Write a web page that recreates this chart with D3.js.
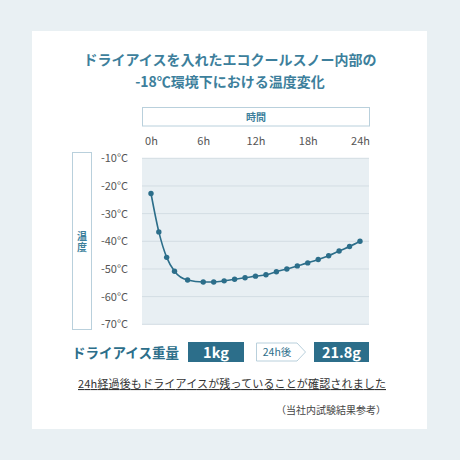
<!DOCTYPE html>
<html>
<head>
  <meta charset="utf-8">
  <script src="https://cdn.jsdelivr.net/npm/d3@7"></script>
  <style>
    html, body { margin: 0; padding: 0; background: #e9f0f3; }
    svg { display: block; font-family: "Noto Sans CJK JP", "Noto Sans", sans-serif; }
  </style>
</head>
<body>
<script>
  // time (h) and temperature (°C)
  var hours = [0, 0.9, 1.8, 2.7, 4.2, 6, 7.2, 8.4, 9.6, 10.8, 12, 13.2, 14.4, 15.6, 16.8, 18, 19.2, 20.4, 21.6, 22.8, 24];
  var temps = [-22.7, -36.6, -45.8, -50.8, -54.0, -54.7, -54.7, -54.3, -53.7, -53.2, -52.6, -52.1, -51.0, -50.0, -48.9, -47.8, -46.6, -45.2, -43.5, -41.9, -40.0];
  var xTicks = [0, 6, 12, 18, 24];
  var yTicks = [-10, -20, -30, -40, -50, -60, -70];
  var titleLines = ["ドライアイスを入れたエコクールスノー内部の", "-18℃環境下における温度変化"];

  var blue = "#2c6e8a", titleBlue = "#3d7f9c";

  var svg = d3.select("body").append("svg")
    .attr("width", 460).attr("height", 460);

  svg.append("rect").attr("width", 460).attr("height", 460).attr("fill", "#e9f0f3");
  svg.append("rect").attr("x", 32).attr("y", 31).attr("width", 395).attr("height", 398).attr("fill", "#fff");

  // title
  svg.selectAll(".title").data(titleLines).enter().append("text")
    .attr("x", 230).attr("y", function (d, i) { return 65 + i * 22; })
    .attr("text-anchor", "middle")
    .attr("font-size", 14).attr("font-weight", "bold")
    .attr("fill", titleBlue)
    .text(function (d) { return d; });

  var x = d3.scaleLinear().domain([0, 24]).range([151, 360]);
  var y = d3.scaleLinear().domain([-10, -70]).range([158.3, 324.3]);

  // axis title boxes
  svg.append("rect").attr("x", 142.5).attr("y", 107.5).attr("width", 227).attr("height", 18.5)
    .attr("fill", "none").attr("stroke", "#b9d0dc");
  svg.append("text").attr("x", 256).attr("y", 120.5).attr("text-anchor", "middle")
    .attr("font-size", 10).attr("font-weight", "bold").attr("fill", titleBlue).text("時間");

  svg.append("rect").attr("x", 72.5).attr("y", 152.5).attr("width", 19).attr("height", 177)
    .attr("fill", "none").attr("stroke", "#b9d0dc");
  // vertical label
  svg.append("text").attr("x", 82).attr("y", 242.5)
    .attr("text-anchor", "middle")
    .style("writing-mode", "vertical-rl")
    .attr("letter-spacing", 1.5)
    .attr("font-size", 10).attr("font-weight", "bold").attr("fill", titleBlue).text("温度");

  // plot background
  svg.append("rect").attr("x", 142).attr("y", y(-10)).attr("width", 227).attr("height", y(-70) - y(-10))
    .attr("fill", "#e8eff3");

  // gridlines
  svg.selectAll(".grid").data(yTicks).enter().append("line")
    .attr("x1", 142).attr("x2", 369)
    .attr("y1", function (d) { return y(d); }).attr("y2", function (d) { return y(d); })
    .attr("stroke", "#d3dde3").attr("stroke-width", 1);

  // tick labels
  var yAxis = d3.axisLeft(y).tickValues(yTicks).tickSize(0).tickPadding(0)
    .tickFormat(function (d) { return d + "°C"; });
  var gy = svg.append("g").attr("transform", "translate(128,0)").call(yAxis);
  gy.select(".domain").remove();
  gy.selectAll("text").attr("font-size", 11).attr("fill", "#555")
    .attr("font-family", "'Noto Sans CJK JP', sans-serif");

  var xAxis = d3.axisTop(x).tickValues(xTicks).tickSize(0).tickPadding(0)
    .tickFormat(function (d) { return d + "h"; });
  var gx = svg.append("g").attr("transform", "translate(0,145)").call(xAxis);
  gx.select(".domain").remove();
  gx.selectAll("text").attr("font-size", 11).attr("fill", "#555")
    .attr("font-family", "'Noto Sans CJK JP', sans-serif");

  // line and points
  var pts = hours.map(function (h, i) { return [h, temps[i]]; });
  svg.append("path").datum(pts)
    .attr("fill", "none").attr("stroke", blue).attr("stroke-width", 1.6)
    .attr("d", d3.line().x(function (d) { return x(d[0]); }).y(function (d) { return y(d[1]); })
      .curve(d3.curveMonotoneX));
  svg.selectAll(".dot").data(pts).enter().append("circle")
    .attr("cx", function (d) { return x(d[0]); }).attr("cy", function (d) { return y(d[1]); })
    .attr("r", 2.7).attr("fill", blue);

  // dry ice weight row
  svg.append("text").attr("x", 72).attr("y", 357.5)
    .attr("font-size", 13.5).attr("font-weight", "bold").attr("fill", blue).text("ドライアイス重量");

  svg.append("rect").attr("x", 188).attr("y", 342).attr("width", 56).attr("height", 20).attr("fill", blue);
  svg.append("text").attr("x", 216).attr("y", 357.5).attr("text-anchor", "middle")
    .attr("font-size", 14.5).attr("font-weight", "bold").attr("fill", "#fff").text("1kg");

  svg.append("path")
    .attr("d", "M256.5,343 H297 L305.5,352 L297,361 H256.5 Z")
    .attr("fill", "#fff").attr("stroke", "#b9d0dc");
  svg.append("text").attr("x", 277).attr("y", 356).attr("text-anchor", "middle")
    .attr("font-size", 10.5).attr("fill", blue).text("24h後");

  svg.append("rect").attr("x", 314).attr("y", 342).attr("width", 55).attr("height", 20).attr("fill", blue);
  svg.append("text").attr("x", 341.5).attr("y", 357.5).attr("text-anchor", "middle")
    .attr("font-size", 14.5).attr("font-weight", "bold").attr("fill", "#fff").text("21.8g");

  // note
  svg.append("text").attr("x", 232).attr("y", 388).attr("text-anchor", "middle")
    .attr("font-size", 11).attr("fill", "#333").attr("text-decoration", "underline")
    .attr("textLength", 308).attr("lengthAdjust", "spacing")
    .text("24h経過後もドライアイスが残っていることが確認されました");
  svg.append("text").attr("x", 386).attr("y", 414).attr("text-anchor", "end")
    .attr("font-size", 10).attr("fill", "#444").text("（当社内試験結果参考）");
</script>
</body>
</html>
